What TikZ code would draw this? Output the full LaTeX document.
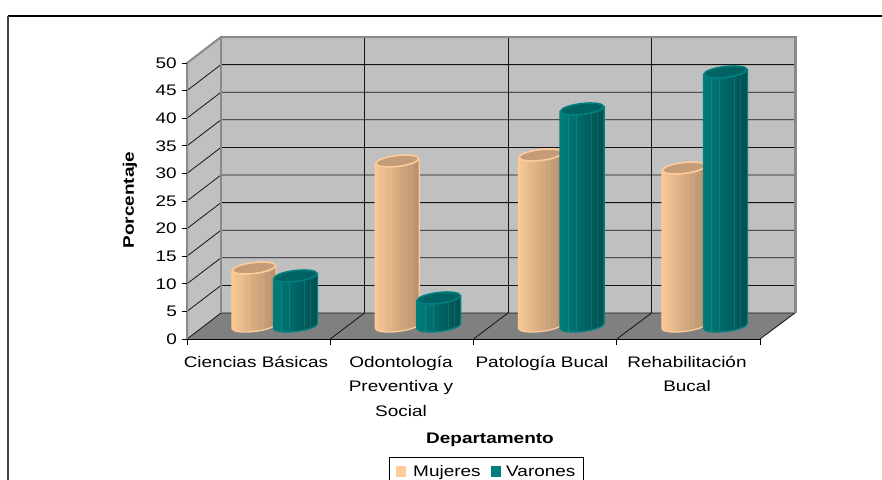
\documentclass[tikz,border=0pt]{standalone}
\usepackage{fontspec}
\setmainfont{Liberation Sans}
\usepackage{graphicx}
\definecolor{peach}{HTML}{FFCC99}
\definecolor{peachL}{HTML}{F8C894}
\definecolor{peachR}{HTML}{B48E6C}
\definecolor{peachM}{HTML}{DDB085}
\definecolor{peachTop}{HTML}{C49C78}
\definecolor{teal}{HTML}{008080}
\definecolor{tealL}{HTML}{007C7C}
\definecolor{tealM}{HTML}{006B6B}
\definecolor{tealR}{HTML}{004F4F}
\definecolor{tealTop}{HTML}{006262}
\definecolor{wallgray}{HTML}{C0C0C0}
\definecolor{floorgray}{HTML}{808080}
\definecolor{edgegray}{HTML}{8A8A8A}
\definecolor{framegray}{HTML}{404040}
\newcommand{\sx}[1]{\scalebox{1.24}[1]{#1}}
\newcommand{\cylinderdraw}[4]{%
  \begin{scope}[shift={(#1,326)}, yslant=0.11]
    \shadedraw[#3] (-22,-#2) -- (-22,0) arc[start angle=180, end angle=360, x radius=22pt, y radius=5.5pt] -- (22,-#2) -- cycle;
    \foreach \fx in {-14,-6,9,15}{\draw[facet] (\fx,-#2+5) -- (\fx,4);}
    \filldraw[#4] (0,-#2) ellipse [x radius=21.5pt, y radius=5.5pt];
  \end{scope}}
\begin{document}
\begin{tikzpicture}[x=1pt,y=-1pt,
  lbl/.style={inner sep=0pt, font=\fontsize{15.3}{18}\selectfont},
  boldlbl/.style={inner sep=0pt, font=\fontsize{15.3}{18}\selectfont\bfseries},
  gridline/.style={draw=black!92, line width=0.8pt},
  walledge/.style={draw=edgegray, line width=2pt},
  mbody/.style={left color=peachL, middle color=peachM, right color=peachR, draw=peach, line width=1.3pt},
  mtop/.style={fill=peachTop, draw=peach, line width=1.6pt},
  vbody/.style={left color=tealL, middle color=tealM, right color=tealR, draw=teal, line width=1.3pt},
  vtop/.style={fill=tealTop, draw=teal, line width=1.6pt},
  facet/.style={draw=white, opacity=0.09, line width=0.6pt},
  keybox/.style={inner sep=0pt, minimum width=10pt, minimum height=11pt}]
\useasboundingbox (0,0) rectangle (882,479);
\clip (0,0) rectangle (882,479);
\fill[white] (0,0) rectangle (882,479);
% outer frame
\draw[black, line width=1.2pt] (8,16) -- (890,16);
\draw[framegray, line width=1.6pt] (8,16) -- (8,490);
% walls and floor
\coordinate (fl) at (187,339);
\coordinate (fr) at (760,339);
\coordinate (bl) at (221,313);
\coordinate (br) at (795,313);
\coordinate (ft) at (187,63);
\coordinate (bt) at (221,37);
\coordinate (brt) at (795,37);
\fill[wallgray] (fl) -- (ft) -- (bt) -- (bl) -- cycle;
\fill[wallgray] (bl) -- (bt) -- (brt) -- (br) -- cycle;
\fill[floorgray] (fl) -- (fr) -- (br) -- (bl) -- cycle;
% gridlines
\foreach \v in {0,5,...,45}{
  \pgfmathsetmacro{\yf}{339-5.52*\v}
  \pgfmathsetmacro{\yb}{313-5.52*\v}
  \draw[gridline] (187,\yf) -- (221,\yb) -- (795,\yb);
}
\foreach \xb in {364.5,508,651.5}{\draw[gridline] (\xb,37) -- (\xb,313);}
\foreach \xf/\xb in {330.3/364.5,473.5/508,616.8/651.5,760/795}{\draw[gridline] (\xf,339) -- (\xb,313);}
% wall edges
\draw[walledge] (187,339) -- (ft) -- (bt) -- (brt);
\draw[walledge] (bt) -- (bl);
\draw[draw=edgegray, line width=3pt] (795,36) -- (795,313);
\draw[black, line width=0.9pt] (fl) -- (fr);
% ticks and labels
\foreach \v in {0,5,...,50}{
  \pgfmathsetmacro{\yf}{339-5.52*\v}
  \draw[black, line width=0.8pt] (182,\yf) -- (187,\yf);
  \node[lbl, anchor=east] (t\v) at (177,\yf) {\sx{\v}};
}
\foreach \xf in {187,330.3,473.5,616.8,760}{\draw[black, line width=0.9pt] (\xf,339) -- (\xf,345);}
% cylinders
\foreach \i/\hm/\hv in {0/58/50, 1/165/28, 2/171/217, 3/158/254}{
  \pgfmathsetmacro{\xm}{254+143.3*\i}
  \pgfmathsetmacro{\xv}{\xm+41.5}
  \cylinderdraw{\xm}{\hm}{mbody}{mtop}
  \cylinderdraw{\xv}{\hv}{vbody}{vtop}
}
% category labels
\node[lbl, anchor=base] (cb1) at (256,367) {\sx{Ciencias Básicas}};
\node[lbl, anchor=base] (od1) at (401,367) {\sx{Odontología}};
\node[lbl, anchor=base] (od2) at (401,391.5) {\sx{Preventiva y}};
\node[lbl, anchor=base] (od3) at (401,416) {\sx{Social}};
\node[lbl, anchor=base] (pb1) at (542,367) {\sx{Patología Bucal}};
\node[lbl, anchor=base] (rb1) at (687,367) {\sx{Rehabilitación}};
\node[lbl, anchor=base] (rb2) at (687,391.5) {\sx{Bucal}};
% axis titles
\node[boldlbl, rotate=90] (ytitle) at (130,200) {\sx{Porcentaje}};
\node[boldlbl, anchor=base] (xtitle) at (490,443) {\sx{Departamento}};
% legend
\draw[black, line width=0.9pt] (389,457) rectangle (583,500);
\node[keybox, fill=peach, anchor=north west] (km) at (396,466) {};
\node[lbl, anchor=base west] (lm) at (413,476.7) {\sx{Mujeres}};
\node[keybox, fill=teal, anchor=north west] (kv) at (491,466) {};
\node[lbl, anchor=base west] (lv) at (506,476.7) {\sx{Varones}};
\end{tikzpicture}
\end{document}
